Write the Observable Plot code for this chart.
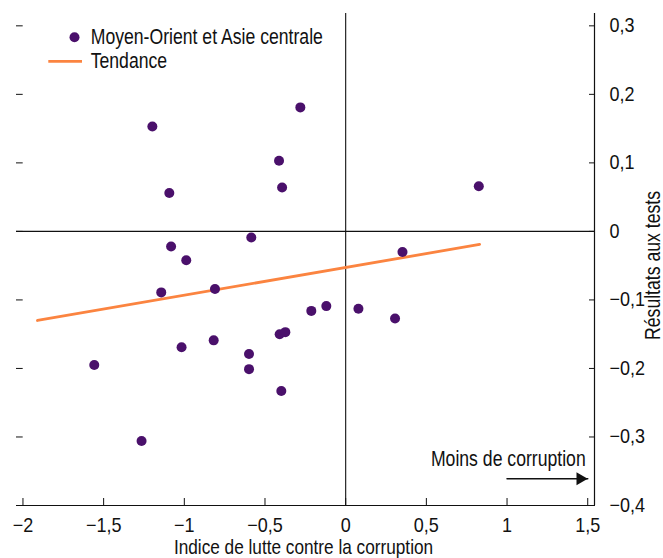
<!DOCTYPE html>
<html>
<head>
<meta charset="utf-8">
<script src="https://cdn.jsdelivr.net/npm/d3@7"></script>
<script src="https://cdn.jsdelivr.net/npm/@observablehq/plot@0.6"></script>
<style>
  body { margin: 0; background: #fff; }
  #chart { width: 663px; height: 558px; overflow: hidden; }
</style>
</head>
<body>
<div id="chart"></div>
<script>
// Middle East and Central Asia: anti-corruption index vs. test results
const countryX = [-1.198, -0.281, -0.413, -0.394, -1.093, 0.825, -0.585, -1.082, -0.988, 0.352,
                  -1.143, -0.810, -0.120, -0.213, 0.079, 0.306, -0.409, -0.374, -1.017, -0.818,
                  -0.599, -0.599, -1.558, -0.399, -1.265];
const countryY = [0.153, 0.181, 0.103, 0.064, 0.056, 0.066, -0.009, -0.022, -0.042, -0.030,
                  -0.089, -0.084, -0.109, -0.116, -0.113, -0.127, -0.150, -0.147, -0.169, -0.159,
                  -0.179, -0.201, -0.195, -0.233, -0.306];

// Trend line end points
const trendX = [-1.91, 0.83];
const trendY = [-0.130, -0.019];

// Axis ticks and extents
const xTicks = [-2, -1.5, -1, -0.5, 0, 0.5, 1, 1.5];
const yTicks = [-0.4, -0.3, -0.2, -0.1, 0, 0.1, 0.2, 0.3];
const xDomain = [-2.04, 1.542];
const yDomain = [-0.4, 0.318];

// "Less corruption" arrow annotation
const arrowX = [1, 1.5];
const arrowY = -0.361;
const arrowLabelY = -0.342;

// Texts
const seriesLabel = "Moyen-Orient et Asie centrale";
const trendLabel = "Tendance";
const xTitle = "Indice de lutte contre la corruption";
const yTitle = "Résultats aux tests";
const arrowLabel = "Moins de corruption";

const PURPLE = "#4a106b";
const ORANGE = "#fb8440";
const FONT = "'Liberation Sans', Arial, sans-serif";
const FONT_SIZE = 21.5;
const TICK_FONT_SIZE = 20;
const X_TITLE_FONT_SIZE = 21;
// horizontal squeeze giving the condensed look of the typeface
const TEXT_SQUEEZE = 0.82;
const TICK_SQUEEZE = 0.9;

const fr = d3.formatLocale({decimal: ",", thousands: "\u00a0", grouping: [3], currency: ["", " €"], minus: "\u2212"});
const fmt = fr.format("~g");

const points = countryX.map((x, i) => ({x, y: countryY[i]}));
const trend = trendX.map((x, i) => ({x, y: trendY[i]}));
const arrow = arrowX.map(x => ({x, y: arrowY}));

const plot = Plot.plot({
  width: 663,
  height: 558,
  marginLeft: 16,
  marginRight: 69,
  marginTop: 13,
  marginBottom: 53,
  style: {fontFamily: FONT, fontSize: FONT_SIZE + "px", color: "#111", background: "white", overflow: "visible"},
  x: {domain: xDomain},
  y: {domain: yDomain},
  marks: [
    // zero lines and frame edges
    Plot.ruleY([0], {stroke: "#111", strokeWidth: 1.1}),
    Plot.ruleX([0], {stroke: "#111", strokeWidth: 1.1}),
    Plot.ruleY([yDomain[0]], {stroke: "#111", strokeWidth: 1.2}),
    Plot.ruleX([xDomain[1]], {stroke: "#111", strokeWidth: 1.2}),
    // unlabeled ticks on the left edge
    Plot.axisY({anchor: "left", ticks: yTicks.filter(d => d > yDomain[0]), tickSize: -6.7, tickFormat: () => "", label: null}),
    // labeled axis on the right
    Plot.axisY({anchor: "right", ticks: yTicks, tickSize: -6, tickPadding: 21, tickFormat: fmt, label: null, fontSize: TICK_FONT_SIZE}),
    Plot.axisX({anchor: "bottom", ticks: xTicks, tickSize: -7, tickPadding: 19, tickFormat: fmt, label: null, fontSize: TICK_FONT_SIZE}),
    // trend
    Plot.line(trend, {x: "x", y: "y", stroke: ORANGE, strokeWidth: 2.8}),
    // countries
    Plot.dot(points, {x: "x", y: "y", r: 5, fill: PURPLE}),
    // arrow annotation
    Plot.line(arrow, {x: "x", y: "y", stroke: "#111", strokeWidth: 1.6}),
    Plot.dot([arrow[1]], {x: "x", y: "y", symbol: "triangle", rotate: 90, r: 4.8, fill: "#111", dx: -7.5}),
    Plot.text([arrowLabel], {x: arrowX[1], y: arrowLabelY, text: d => d, textAnchor: "end", lineAnchor: "bottom", dx: -2}),
    // axis titles
    Plot.text([xTitle], {frameAnchor: "bottom", text: d => d, textAnchor: "middle", lineAnchor: "bottom", dy: 48.5, dx: -2, fontSize: X_TITLE_FONT_SIZE}),
    Plot.text([yTitle], {frameAnchor: "right", text: d => d, textAnchor: "middle", rotate: -90, lineAnchor: "bottom", dx: 65, dy: 6})
  ]
});

// legend in the upper-left corner
const legend = d3.select(plot).append("g")
  .attr("font-family", FONT)
  .attr("font-size", FONT_SIZE)
  .attr("text-anchor", "start")
  .attr("fill", "#111");
legend.append("circle").attr("cx", 74.5).attr("cy", 37.3).attr("r", 5).attr("fill", PURPLE);
legend.append("text").attr("transform", "translate(90.7,44)").text(seriesLabel);
legend.append("line").attr("x1", 48.3).attr("x2", 82).attr("y1", 61.3).attr("y2", 61.3)
  .attr("stroke", ORANGE).attr("stroke-width", 2.8);
legend.append("text").attr("transform", "translate(90.7,68.3)").text(trendLabel);

// squeeze every text horizontally around its own anchor point
d3.select(plot).selectAll("text").each(function () {
  const isTick = this.closest("g[aria-label$='tick label']") !== null;
  const s = isTick ? TICK_SQUEEZE : TEXT_SQUEEZE;
  let t = this.getAttribute("transform");
  if (!t) {
    const x = +this.getAttribute("x") || 0;
    const y = +this.getAttribute("y") || 0;
    this.removeAttribute("x");
    this.removeAttribute("y");
    t = `translate(${x},${y})`;
  }
  this.setAttribute("transform", `${t} scale(${s},1)`);
});

document.getElementById("chart").appendChild(plot);
</script>
</body>
</html>
